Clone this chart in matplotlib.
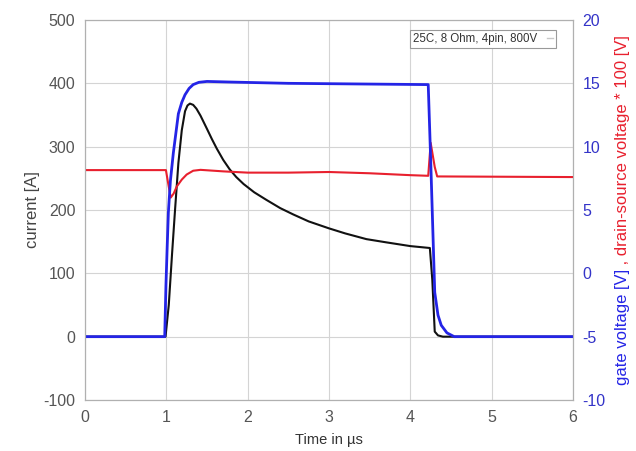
import matplotlib
matplotlib.use('Agg')
import matplotlib.pyplot as plt
from matplotlib.lines import Line2D

plt.rcParams['font.family'] = ['Liberation Sans', 'DejaVu Sans']
plt.rcParams['axes.unicode_minus'] = False

# black: drain current [A] (left axis)
t_current = [0, 0.99, 1.03, 1.07, 1.107, 1.148, 1.19, 1.23, 1.26, 1.29, 1.33, 1.37,
             1.42, 1.5, 1.56, 1.62, 1.7, 1.78, 1.86, 1.95, 2.08, 2.23, 2.4, 2.56,
             2.75, 3.0, 3.2, 3.46, 3.7, 4.0, 4.24, 4.27, 4.30, 4.34, 4.4, 6.0]
current = [0, 0, 50, 130, 200, 274, 326, 356, 365, 368, 366, 360,
           349, 328, 312, 297, 279, 264, 252, 241, 228, 216, 203, 193,
           182, 171, 163, 154, 149, 143, 140, 90, 8, 2, 0, 0]

# blue: gate voltage [V] (right axis)
t_gate = [0, 0.98, 0.995, 1.01, 1.025, 1.05, 1.086, 1.148, 1.19, 1.23, 1.28, 1.33,
          1.4, 1.5, 1.8, 2.5, 4.22, 4.25, 4.3, 4.34, 4.38, 4.45, 4.54, 6.0]
gate = [-5, -5, -1, 2, 4.8, 7.3, 9.5, 12.6, 13.5, 14.1, 14.6, 14.9,
        15.08, 15.15, 15.1, 15.0, 14.9, 9, -1.5, -3.3, -4.1, -4.7, -5, -5]

# red: drain-source voltage * 100 [V] (right axis)
t_vds = [0, 0.995, 1.02, 1.054, 1.09, 1.128, 1.19, 1.25, 1.33, 1.42, 1.7, 2.0,
         2.5, 3.0, 3.5, 4.0, 4.22, 4.25, 4.3, 4.33, 6.0]
vds = [8.15, 8.15, 7.2, 5.98, 6.3, 6.85, 7.4, 7.8, 8.1, 8.17, 8.05, 7.95,
       7.95, 8.0, 7.9, 7.75, 7.7, 10.3, 8.4, 7.65, 7.6]

BLUE = '#2424e6'
RED = '#e8202e'
GRAY = '#555555'

fig = plt.figure(figsize=(6.36, 4.51), dpi=100)
ax = fig.add_axes([85 / 636, 51 / 451, 488 / 636, 380 / 451])
ax2 = ax.twinx()

ax.plot(t_current, current, color='#111111', linewidth=1.5, zorder=3)
ax2.plot(t_vds, vds, color=RED, linewidth=1.5)
ax2.plot(t_gate, gate, color=BLUE, linewidth=2)

ax.set_xlim(0, 6)
ax.set_ylim(-100, 500)
ax2.set_ylim(-10, 20)
ax.set_xticks(range(0, 7))
ax.set_yticks(range(-100, 501, 100))
ax2.set_yticks(range(-10, 21, 5))
ax.grid(True, color='#d4d4d4', linewidth=0.8)

for a in (ax, ax2):
    for s in a.spines.values():
        s.set_color('#b0b0b0')
        s.set_linewidth(0.8)
ax.tick_params(length=0, pad=7, labelsize=11.5, colors=GRAY)
ax2.tick_params(length=0, pad=7, labelsize=11.5, colors='#3434c8')

ax.set_xlabel('Time in µs', fontsize=10.5, color='#333333', labelpad=6)
ax.set_ylabel('current [A]', fontsize=12, color='#444444')
ax.yaxis.set_label_coords(-0.093, 0.5)

leg = ax.legend([Line2D([], [], color='#c8c8c8', linewidth=1)],
                ['25C, 8 Ohm, 4pin, 800V'], loc='upper right',
                bbox_to_anchor=(0.977, 0.99), markerfirst=False,
                handlelength=0.5, handletextpad=0.8, fontsize=8.3,
                fancybox=False, framealpha=1, borderpad=0.3,
                labelcolor='#333333')
leg.get_frame().set_edgecolor('#999999')
leg.get_frame().set_linewidth(0.8)

# two-coloured right axis label
lab1 = fig.text(623 / 636, 66 / 451, 'gate voltage [V]', rotation=90,
                ha='center', va='bottom', fontsize=12, color=BLUE)
fig.canvas.draw()
bb = lab1.get_window_extent(fig.canvas.get_renderer())
fig.text(623 / 636, bb.y1 / fig.bbox.height, ' , drain-source voltage * 100 [V]',
         rotation=90, ha='center', va='bottom', fontsize=12, color=RED)

fig.savefig('out.png', dpi=100)
